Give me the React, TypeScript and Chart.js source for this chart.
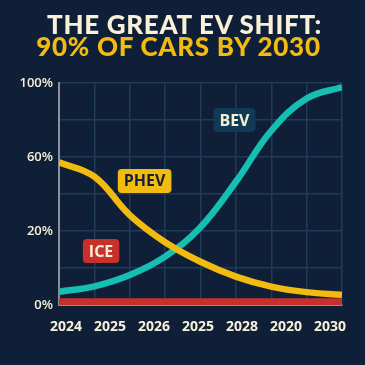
import React, { useEffect, useRef } from "react";
import { Chart, registerables } from "chart.js";

Chart.register(...registerables);

const titleLine1 = "THE GREAT EV SHIFT:";
const titleLine2 = "90% OF CARS BY 2030";

const xPositions = [0, 1, 2, 3, 4, 5, 6, 7, 8];
const bevValues = [6, 8.4, 13.5, 21.8, 35, 55.5, 78.5, 93, 98.2];
const phevValues = [64.3, 57.8, 40.5, 28.3, 19.5, 12.8, 8.3, 5.8, 4.6];
const iceValues = [1.5, 1.5, 1.5, 1.5, 1.5, 1.5, 1.5, 1.5, 1.5];

const xTickLabels = ["2024", "2025", "2026", "2025", "2028", "2020", "2030"];
const yTickValues = [0, 100 / 6, 200 / 6, 50, 400 / 6, 500 / 6, 100];
const yTickLabels = ["0%", "", "20%", "", "60%", "", "100%"];

const seriesLabels = [
  { text: "BEV", x: 4.96, y: 83.3, fill: "#0e3a55", color: "#f6eed6" },
  { text: "PHEV", x: 2.42, y: 55.9, fill: "#f1bb10", color: "#13213a" },
  { text: "ICE", x: 1.19, y: 24.3, fill: "#c9302c", color: "#f6eed6" },
];

const BG = "#0f1f38";
const GRID = "#1f3b58";
const TEAL = "#17bfb3";
const YELLOW = "#f1bb10";
const RED = "#c9302c";
const CREAM = "#f8f1d8";

const bgPlugin = {
  id: "bg",
  beforeDraw(chart: any) {
    const ctx = chart.ctx;
    ctx.save();
    ctx.fillStyle = BG;
    ctx.fillRect(0, 0, chart.width, chart.height);
    ctx.restore();
  },
};

const labelPlugin = {
  id: "seriesLabels",
  afterDatasetsDraw(chart: any) {
    const ctx = chart.ctx;
    const xs = chart.scales.x;
    const ys = chart.scales.y;
    ctx.save();
    ctx.font = "bold 16px 'Open Sans', sans-serif";
    ctx.textAlign = "center";
    ctx.textBaseline = "middle";
    seriesLabels.forEach((l) => {
      const cx = xs.getPixelForValue(l.x);
      const cy = ys.getPixelForValue(l.y);
      const w = ctx.measureText(l.text).width + 12;
      const h = 24;
      ctx.fillStyle = l.fill;
      ctx.beginPath();
      ctx.roundRect(cx - w / 2, cy - h / 2, w, h, 4);
      ctx.fill();
      ctx.fillStyle = l.color;
      ctx.fillText(l.text, cx, cy + 1);
    });
    ctx.restore();
  },
};

export default function App() {
  const ref = useRef<HTMLCanvasElement | null>(null);
  useEffect(() => {
    if (!ref.current) return;
    const toPts = (vals: number[]) => vals.map((v, i) => ({ x: xPositions[i], y: v }));
    const chart = new Chart(ref.current, {
      type: "line",
      data: {
        datasets: [
          {
            label: "ICE",
            data: toPts(iceValues),
            borderColor: RED,
            borderWidth: 7,
            pointRadius: 0,
            tension: 0,
            borderCapStyle: "butt",
          },
          {
            label: "PHEV",
            data: toPts(phevValues),
            borderColor: YELLOW,
            borderWidth: 6.5,
            pointRadius: 0,
            tension: 0.4,
            borderCapStyle: "butt",
          },
          {
            label: "BEV",
            data: toPts(bevValues),
            borderColor: TEAL,
            borderWidth: 6.5,
            pointRadius: 0,
            tension: 0.4,
            borderCapStyle: "butt",
          },
        ],
      },
      options: {
        animation: false,
        responsive: true,
        maintainAspectRatio: false,
        layout: { padding: { left: 0, right: 23, top: 83, bottom: 0 } },
        plugins: {
          legend: { display: false },
          tooltip: { enabled: false },
          title: { display: false },
        },
        scales: {
          x: {
            type: "linear",
            min: 0,
            max: 8,
            position: "bottom",
            ticks: { display: false, stepSize: 1 },
            grid: { color: GRID, lineWidth: 1.5, drawTicks: false },
            border: { display: true, color: "#8c9099", width: 2 },
            afterFit: (s: any) => {
              s.height = 0;
            },
          },
          xl: {
            type: "linear",
            min: -0.159,
            max: 6.27,
            position: "bottom",
            grid: { display: false },
            border: { display: false },
            afterBuildTicks: (axis: any) => {
              axis.ticks = xTickLabels.map((_, i) => ({ value: i }));
            },
            ticks: {
              color: CREAM,
              font: { family: "'Open Sans'", weight: "bold", size: 14 },
              padding: 6,
              autoSkip: false,
              maxRotation: 0,
              callback: (v: any) => xTickLabels[Math.round(Number(v))] ?? "",
            },
            afterFit: (s: any) => {
              s.height = 60;
            },
          },
          y: {
            type: "linear",
            min: 0,
            max: 100,
            afterBuildTicks: (axis: any) => {
              axis.ticks = yTickValues.map((v) => ({ value: v }));
            },
            ticks: {
              color: CREAM,
              font: { family: "'Open Sans'", weight: "600", size: 13 },
              padding: 6,
              callback: (_v: any, i: number) => yTickLabels[i],
            },
            grid: { color: GRID, lineWidth: 1.5, drawTicks: false },
            border: { display: true, color: "#8c9099", width: 2 },
            afterFit: (s: any) => {
              s.width = 59;
            },
          },
        },
      },
      plugins: [bgPlugin, labelPlugin],
    });
    return () => chart.destroy();
  }, []);
  const titleStyle: React.CSSProperties = {
    position: "absolute",
    left: 0,
    width: 365,
    textAlign: "center",
    fontFamily: "Lato, sans-serif",
    fontWeight: 900,
    fontSize: 26,
    lineHeight: "22px",
    letterSpacing: "0.7px",
    whiteSpace: "nowrap",
  };
  return (
    <div style={{ position: "absolute", left: 0, top: 0, width: 365, height: 365, background: BG }}>
      <canvas ref={ref} />
      <div style={{ ...titleStyle, top: 13, left: 2, color: CREAM }}>{titleLine1}</div>
      <div style={{ ...titleStyle, top: 35, left: -4, color: YELLOW }}>{titleLine2}</div>
    </div>
  );
}
